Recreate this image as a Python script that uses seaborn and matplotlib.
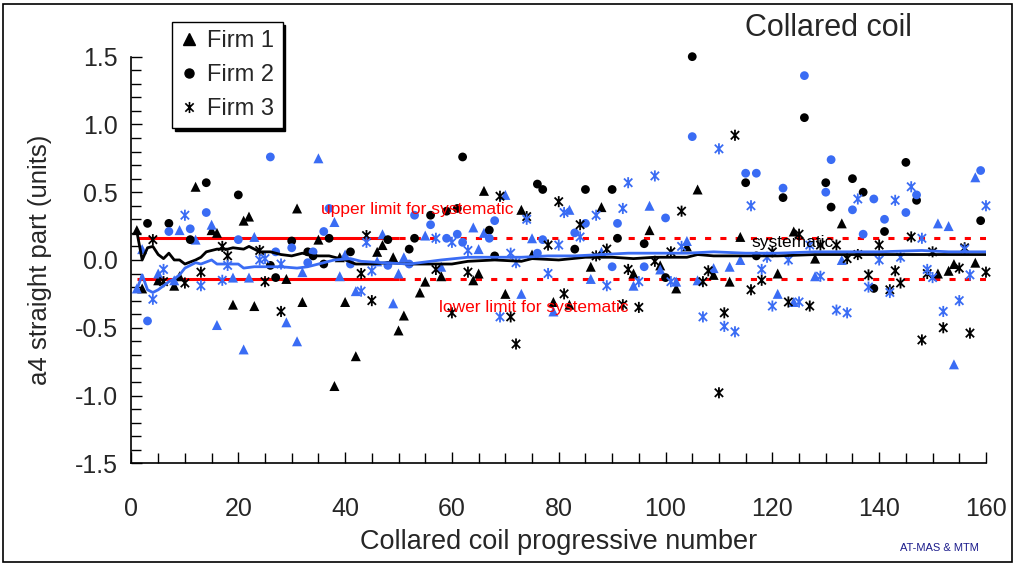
import numpy as np
import pandas as pd
import matplotlib
matplotlib.use("Agg")
import matplotlib.pyplot as plt
import seaborn as sns
from matplotlib.lines import Line2D
from matplotlib.patches import Rectangle
from matplotlib.path import Path
from matplotlib.ticker import MultipleLocator, FormatStrFormatter

nan = float("nan")

# ---------------- data ----------------
firm1_coil = [1, 2, 5, 8, 9, 12, 15, 16, 19, 21, 22, 23, 29, 31, 32, 35, 38, 39, 40, 42,
              46, 47, 49, 50, 51, 54, 55, 58, 64, 65, 66, 70, 73, 75, 79, 82, 86, 88, 94, 97,
              99, 102, 104, 106, 109, 112, 114, 121, 124, 128, 133, 151, 153, 154, 158]
firm1_ap1 = [0.22, -0.21, -0.15, -0.19, -0.12, 0.54, 0.22, 0.20, -0.33, 0.29, 0.32, -0.34, -0.14, 0.38, -0.31,
             0.15, -0.93, 0.02, -0.31, -0.71, 0.06, 0.11, 0.02, -0.52, -0.41, -0.24, -0.16, -0.12, -0.15, -0.10,
             0.51, -0.25, 0.37, 0.04, -0.31, -0.33, -0.05, 0.39, -0.10, 0.22, -0.04, -0.21, 0.10, 0.52, -0.11,
             -0.16, 0.17, -0.10, 0.21, 0.01, 0.27, -0.10, -0.08, -0.03, -0.02]
firm1_ap2 = [-0.21, 0.08, -0.10, -0.15, 0.22, 0.15, 0.26, -0.48, -0.13, -0.66, -0.13, 0.17, -0.46, -0.60, -0.09,
             0.75, 0.28, -0.12, 0.04, -0.23, -0.01, 0.19, -0.32, -0.10, 0.02, nan, 0.18, -0.05, 0.24, 0.08,
             0.20, 0.48, -0.25, 0.16, -0.38, 0.37, -0.14, 0.06, -0.19, 0.40, -0.07, -0.16, 0.14, -0.15, -0.06,
             -0.05, 0.00, -0.25, -0.31, -0.12, 0.00, 0.27, 0.25, -0.77, 0.61]

firm2_coil = [3, 7, 11, 14, 20, 26, 27, 30, 33, 34, 36, 37, 41, 48, 52, 53, 56, 59, 61, 62,
              67, 68, 76, 77, 83, 85, 90, 91, 96, 100, 105, 115, 117, 122, 126, 130, 131, 135, 137, 139,
              141, 145, 147, 159]
firm2_ap1 = [0.27, 0.27, 0.15, 0.57, 0.48, -0.04, -0.13, 0.14, 0.06, 0.03, -0.03, 0.16, 0.06, 0.15, 0.08,
             0.16, 0.33, 0.36, 0.38, 0.76, 0.22, 0.03, 0.56, 0.52, 0.08, 0.52, 0.52, 0.16, 0.12, -0.13,
             1.50, 0.57, 0.03, 0.46, 1.05, 0.57, 0.39, 0.60, 0.50, -0.21, 0.21, 0.72, 0.44, 0.29]
firm2_ap2 = [-0.45, 0.21, 0.23, 0.35, 0.15, 0.76, 0.06, 0.09, -0.02, 0.06, 0.21, 0.38, -0.03, -0.04, -0.03,
             0.33, 0.26, 0.16, 0.19, 0.13, 0.16, 0.29, 0.05, 0.15, 0.20, 0.27, -0.05, 0.27, -0.05, 0.31,
             0.91, 0.64, 0.64, 0.53, 1.36, 0.50, 0.74, 0.37, 0.19, 0.45, 0.30, 0.35, 0.48, 0.66]

firm3_coil = [4, 6, 10, 13, 17, 18, 24, 25, 28, 43, 44, 45, 57, 60, 63, 69, 71, 72, 74, 78,
              80, 81, 84, 87, 89, 92, 93, 95, 98, 101, 103, 107, 108, 110, 111, 113, 116, 118, 119, 120,
              123, 125, 127, 129, 132, 134, 136, 138, 140, 142, 143, 144, 146, 148, 149, 150, 152, 155, 156, 157,
              160]
firm3_ap1 = [0.15, -0.16, -0.17, -0.09, 0.10, 0.03, 0.07, -0.16, -0.38, -0.10, 0.18, -0.30, -0.07, -0.39, -0.09,
             0.47, -0.42, -0.62, 0.32, 0.11, 0.43, -0.25, 0.26, 0.03, 0.08, -0.33, -0.07, -0.35, -0.01, 0.06,
             0.36, -0.16, -0.08, -0.98, -0.39, 0.92, -0.22, -0.15, nan, 0.06, -0.31, 0.19, -0.34, 0.11, 0.11,
             0.01, 0.04, -0.11, 0.11, -0.22, -0.08, -0.17, 0.17, -0.59, -0.10, 0.06, -0.50, -0.06, 0.09, -0.54,
             -0.09]
firm3_ap2 = [-0.29, -0.07, 0.33, -0.19, -0.15, -0.04, 0.00, 0.01, -0.03, -0.23, 0.13, -0.08, 0.16, 0.13, 0.07,
             -0.42, 0.05, -0.02, 0.30, -0.10, 0.11, 0.35, 0.17, 0.33, -0.19, 0.38, 0.57, -0.16, 0.62, -0.16,
             0.10, -0.42, nan, 0.82, -0.49, -0.53, 0.40, -0.07, 0.02, -0.34, 0.00, -0.31, 0.11, -0.12, -0.37,
             -0.39, 0.45, -0.20, 0.00, -0.24, 0.44, 0.02, 0.54, 0.16, -0.07, -0.13, -0.38, -0.30, 0.08, -0.11,
             0.40]

# running systematic (cumulative average)
sys1_coil = [1, 2, 3, 4, 5, 6, 7, 8, 9, 10, 12, 13, 14, 16, 18, 19, 21, 22, 24, 26, 28, 30, 32, 34, 37,
             40, 42, 45, 48, 52, 56, 60, 63, 68, 73, 75, 80, 85, 90, 94, 98, 104, 106, 109, 115, 121, 128,
             134, 140, 146, 153, 160]
sys1_val = [0.21, 0.00, 0.09, 0.10, 0.04, 0.01, 0.05, 0.00, 0.00, -0.03, 0.00, 0.02, 0.06, 0.08, 0.08, 0.09,
            0.08, 0.10, 0.06, 0.06, 0.04, 0.03, 0.05, 0.03, 0.03, 0.00, -0.03, -0.03, -0.02, -0.03, -0.03,
            -0.03, -0.01, 0.00, -0.01, 0.01, 0.00, 0.02, 0.02, 0.01, 0.02, 0.02, 0.04, 0.03, 0.03, 0.03, 0.04,
            0.04, 0.04, 0.04, 0.04, 0.04]
sys2_coil = [1, 2, 3, 4, 5, 7, 8, 9, 10, 12, 13, 15, 16, 18, 20, 21, 23, 26, 28, 31, 33, 36, 38, 41, 43,
             47, 52, 56, 58, 63, 68, 73, 78, 83, 88, 93, 98, 104, 109, 115, 121, 128, 134, 140, 148, 153, 160]
sys2_val = [-0.22, -0.11, -0.22, -0.24, -0.22, -0.16, -0.14, -0.11, -0.06, -0.02, -0.03, 0.00, -0.03, -0.03,
            -0.03, -0.06, -0.05, -0.05, -0.05, -0.06, -0.05, -0.02, 0.00, 0.01, -0.01, -0.02, -0.03, -0.01,
            0.00, 0.02, 0.02, 0.02, 0.03, 0.03, 0.04, 0.05, 0.05, 0.05, 0.06, 0.05, 0.05, 0.06, 0.06, 0.06,
            0.07, 0.06, 0.06]

limit_x_solid = [1, 50]
limit_x_dashed = [50, 160]
upper_limit = 0.16
lower_limit = -0.14

firm_labels = ["Firm 1", "Firm 2", "Firm 3"]
y_ticks = [-1.5, -1.0, -0.5, 0.0, 0.5, 1.0, 1.5]
x_ticks = [0, 20, 40, 60, 80, 100, 120, 140, 160]

BLUE = "#3a6cf4"
BLACK = "#000000"
RED = "#ff0000"

# asterisk marker: vertical bar + X
ASTER = Path([(0, -1), (0, 1), (-0.75, -0.75), (0.75, 0.75), (-0.75, 0.75), (0.75, -0.75)],
             [Path.MOVETO, Path.LINETO, Path.MOVETO, Path.LINETO, Path.MOVETO, Path.LINETO])

# ---------------- build long table ----------------
rows = []
for fl, coil, a1, a2 in zip(firm_labels,
                            [firm1_coil, firm2_coil, firm3_coil],
                            [firm1_ap1, firm2_ap1, firm3_ap1],
                            [firm1_ap2, firm2_ap2, firm3_ap2]):
    for c, v in zip(coil, a1):
        rows.append((fl, "ap1", c, v))
    for c, v in zip(coil, a2):
        rows.append((fl, "ap2", c, v))
df = pd.DataFrame(rows, columns=["firm", "aperture", "coil", "a4"]).dropna()

sns.set_style("ticks")
plt.rcParams["font.family"] = ["Liberation Sans", "DejaVu Sans"]
plt.rcParams["axes.unicode_minus"] = False

fig = plt.figure(figsize=(10.17, 5.66), dpi=100)
ax = fig.add_axes([0.1293, 0.1815, 0.8402, 0.7184])

palette = {"ap1": BLACK, "ap2": BLUE}
marker_of = {"Firm 1": "^", "Firm 2": "o", "Firm 3": ASTER}
size_of = {"Firm 1": 52, "Firm 2": 40, "Firm 3": 64}

for fl in firm_labels:
    sub = df[df.firm == fl]
    for ap in ["ap1", "ap2"]:
        s2 = sub[sub.aperture == ap]
        if fl == "Firm 3":
            ax.scatter(s2["coil"], s2["a4"], marker=ASTER, s=size_of[fl], facecolors="none",
                       edgecolors=palette[ap], linewidths=1.3, clip_on=False, zorder=3)
        else:
            sns.scatterplot(data=s2, x="coil", y="a4", marker=marker_of[fl], s=size_of[fl],
                            color=palette[ap], edgecolor="none", ax=ax, legend=False,
                            clip_on=False, zorder=3)

# systematic lines
sns.lineplot(x=sys1_coil, y=sys1_val, color=BLACK, lw=2, ax=ax, sort=False, estimator=None, zorder=4)
sns.lineplot(x=sys2_coil, y=sys2_val, color=BLUE, lw=2, ax=ax, sort=False, estimator=None, zorder=4)

# limits
for lim in (upper_limit, lower_limit):
    ax.plot(limit_x_solid, [lim, lim], color=RED, lw=2.2, zorder=2, solid_capstyle="butt")
    ax.plot(limit_x_dashed, [lim, lim], color=RED, lw=2.2, dashes=(2, 3), zorder=2)

ax.text(35.5, 0.37, "upper limit for systematic", color=RED, fontsize=12.5, va="center", ha="left")
ax.text(57.5, -0.35, "lower limit for systematic", color=RED, fontsize=12.5, va="center", ha="left")
ax.text(116.0, 0.13, "systematic", color=BLACK, fontsize=12.5, va="center", ha="left", zorder=5)

ax.set_xlim(0, 160)
ax.set_ylim(-1.5, 1.5)
ax.set_xticks(x_ticks)
ax.set_yticks(y_ticks)
ax.xaxis.set_minor_locator(MultipleLocator(5))
ax.yaxis.set_minor_locator(MultipleLocator(0.1))
ax.yaxis.set_major_formatter(FormatStrFormatter("%.1f"))
ax.tick_params(axis="both", which="both", direction="in", color="black", width=1)
ax.tick_params(axis="both", which="major", length=8, labelsize=18)
ax.tick_params(axis="both", which="minor", length=7)
ax.tick_params(axis="x", which="major", pad=24)
ax.tick_params(axis="y", which="major", pad=10)
for sp in ["top", "right"]:
    ax.spines[sp].set_visible(False)
for sp in ["left", "bottom"]:
    ax.spines[sp].set_color("black")
    ax.spines[sp].set_linewidth(1.2)
ax.set_xlabel("Collared coil progressive number", fontsize=19.5, labelpad=6)
ax.set_ylabel("a4 straight part (units)", fontsize=18.5, labelpad=16)

handles = [Line2D([], [], ls="none", marker="^", color=BLACK, markersize=8),
           Line2D([], [], ls="none", marker="o", color=BLACK, markersize=6.5),
           Line2D([], [], ls="none", marker=ASTER, color=BLACK, markersize=8, mew=1.2)]
leg = ax.legend(handles, firm_labels, loc="upper left", bbox_to_anchor=(172 / 1017, 1 - 22 / 566),
                bbox_transform=fig.transFigure, fontsize=17, frameon=True, fancybox=False,
                shadow={"color": "black", "alpha": 1.0}, edgecolor="black", framealpha=1,
                handlelength=0.7, handletextpad=0.45, borderpad=0.35, labelspacing=0.5,
                borderaxespad=0)
leg.get_frame().set_linewidth(1.0)

fig.text(745 / 1017, 1 - 28 / 566, "Collared coil", fontsize=22, ha="left", va="center")
fig.text(900 / 1017, 1 - 548 / 566, "AT-MAS & MTM", fontsize=8, ha="left", va="center", color="#1c1c8c")

fig.patches.append(Rectangle((3 / 1017, 4 / 566), 1009 / 1017, 558 / 566, transform=fig.transFigure,
                             fill=False, edgecolor="black", lw=1.2))

fig.savefig("out.png", dpi=100, facecolor="white")
